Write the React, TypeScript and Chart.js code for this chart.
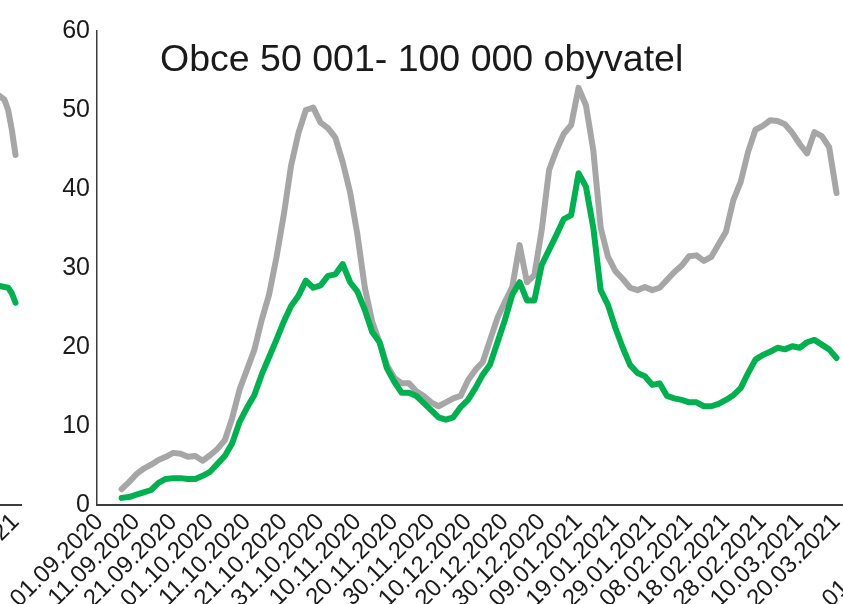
import React, { useEffect, useRef } from 'react';
import { Chart, registerables } from 'chart.js';

Chart.register(...registerables);

const TITLE = 'Obce 50 001- 100 000 obyvatel';

const tickDates = [
  '01.09.2020', '11.09.2020', '21.09.2020', '01.10.2020', '11.10.2020', '21.10.2020',
  '31.10.2020', '10.11.2020', '20.11.2020', '30.11.2020', '10.12.2020', '20.12.2020',
  '30.12.2020', '09.01.2021', '19.01.2021', '29.01.2021', '08.02.2021', '18.02.2021',
  '28.02.2021', '10.03.2021', '20.03.2021',
];

const yTicks = [0, 10, 20, 30, 40, 50, 60];

// samples every 2 days starting 07.09.2020 (day 6 after 01.09.2020)
const FIRST_SAMPLE_DAY = 6;
const SAMPLE_STEP = 2;

const grayValues = [
  2.0, 2.9, 3.9, 4.6, 5.1, 5.7, 6.1, 6.6, 6.5, 6.1,
  6.2, 5.6, 6.3, 7.1, 8.2, 11.0, 14.6, 17.1, 19.6, 23.4,
  26.6, 31.3, 36.7, 43.0, 47.1, 50.0, 50.3, 48.4, 47.7, 46.5,
  43.4, 39.6, 34.2, 27.5, 23.2, 20.6, 17.7, 16.1, 15.4, 15.4,
  14.4, 13.8, 13.0, 12.5, 13.0, 13.5, 13.8, 15.8, 17.1, 18.1,
  20.9, 23.7, 25.7, 27.6, 32.9, 28.2, 29.1, 34.8, 42.4, 44.9,
  47.0, 48.1, 52.8, 50.6, 44.9, 35.1, 31.4, 29.6, 28.6, 27.5,
  27.2, 27.6, 27.2, 27.5, 28.5, 29.5, 30.3, 31.5, 31.6, 30.9,
  31.4, 33.0, 34.6, 38.6, 40.9, 44.7, 47.5, 48.0, 48.7, 48.6,
  48.2, 47.1, 45.7, 44.5, 47.2, 46.7, 45.3, 39.5,
];

const greenValues = [
  0.9, 1.0, 1.3, 1.6, 1.9, 2.8, 3.3, 3.4, 3.4, 3.3,
  3.3, 3.7, 4.2, 5.2, 6.2, 7.8, 10.5, 12.3, 13.9, 16.5,
  18.7, 20.9, 23.2, 25.2, 26.5, 28.4, 27.5, 27.8, 29.0, 29.2,
  30.5, 28.2, 27.0, 24.7, 21.9, 20.6, 17.3, 15.6, 14.2, 14.2,
  13.8, 12.9, 12.0, 11.1, 10.8, 11.1, 12.4, 13.3, 14.8, 16.5,
  17.8, 20.6, 23.4, 26.6, 28.2, 25.9, 25.9, 30.4, 32.3, 34.2,
  36.2, 36.7, 42.0, 40.3, 35.1, 27.2, 25.3, 22.4, 19.9, 17.7,
  16.7, 16.3, 15.2, 15.4, 13.8, 13.5, 13.3, 13.0, 13.0, 12.5,
  12.5, 12.8, 13.3, 13.9, 14.8, 16.7, 18.4, 19.0, 19.4, 19.9,
  19.7, 20.1, 19.9, 20.6, 20.9, 20.3, 19.7, 18.6,
];

// visible tail of the neighbouring panel on the left
const leftDays = [195, 197, 198, 199, 200];
const leftGray = [52.0, 51.3, 50.0, 47.5, 44.3];
const leftGreen = [27.8, 27.6, 27.5, 26.8, 25.6];

const GRAY = '#a6a6a6';
const GREEN = '#00b050';
const FONT = '"Liberation Sans", Arial, sans-serif';

const CANVAS_W = 843;
const CANVAS_H = 640;
const AXIS_LEFT = 97;
const AXIS_TOP = 31;
const AXIS_BOTTOM = 505;
const X_MIN = -0.68;
const X_MAX = 201.76;

function dayOf(label: string): number {
  const [d, m, y] = label.split('.').map(Number);
  return Math.round((Date.UTC(y, m - 1, d) - Date.UTC(2020, 8, 1)) / 86400000);
}

const tickDays = tickDates.map(dayOf);
const sampleDays = grayValues.map((_, i) => FIRST_SAMPLE_DAY + i * SAMPLE_STEP);

type Pt = { x: number; y: number };
const toPts = (days: number[], vals: number[]): Pt[] => vals.map((v, i) => ({ x: days[i], y: v }));

function Panel({ left, gray, green }: { left: number; gray: Pt[]; green: Pt[] }) {
  const ref = useRef<HTMLCanvasElement | null>(null);
  useEffect(() => {
    if (!ref.current) return;
    const lineDs = (label: string, data: Pt[], color: string, order: number) => ({
      label,
      data,
      borderColor: color,
      backgroundColor: color,
      borderWidth: 6,
      pointRadius: 0,
      tension: 0,
      fill: false,
      borderCapStyle: 'round' as const,
      borderJoinStyle: 'round' as const,
      order,
    });
    const chart = new Chart(ref.current, {
      type: 'line',
      data: {
        datasets: [lineDs('green', green, GREEN, 0), lineDs('gray', gray, GRAY, 1)],
      },
      options: {
        responsive: false,
        animation: false,
        devicePixelRatio: 1,
        layout: { padding: { top: AXIS_TOP, left: 0, right: 0, bottom: 0 } },
        plugins: { legend: { display: false }, tooltip: { enabled: false }, title: { display: false } },
        scales: {
          x: {
            type: 'linear',
            min: X_MIN,
            max: X_MAX,
            grid: { display: false, drawTicks: false },
            border: { display: true, color: '#3c3c3c', width: 2 },
            ticks: {
              autoSkip: false,
              maxRotation: 45,
              minRotation: 45,
              padding: 3,
              color: '#1a1a1a',
              font: { family: FONT, size: 24 },
              callback: (v: any) => {
                const i = tickDays.indexOf(Number(v));
                return i >= 0 ? tickDates[i] : '';
              },
            },
            afterBuildTicks: (s: any) => {
              s.ticks = tickDays.map((v) => ({ value: v }));
            },
            afterFit: (s: any) => {
              s.height = CANVAS_H - AXIS_BOTTOM;
              s.paddingLeft = 0;
              s.paddingRight = 0;
            },
          },
          y: {
            type: 'linear',
            min: yTicks[0],
            max: yTicks[yTicks.length - 1],
            grid: { display: false, drawTicks: false },
            border: { display: true, color: '#3c3c3c', width: 1.5 },
            ticks: {
              stepSize: yTicks[1] - yTicks[0],
              padding: 7,
              color: '#1a1a1a',
              font: { family: FONT, size: 25 },
            },
            afterFit: (s: any) => {
              s.width = AXIS_LEFT;
              s.paddingTop = 0;
              s.paddingBottom = 0;
            },
          },
        },
      },
    } as any);
    return () => chart.destroy();
  }, [left, gray, green]);
  return (
    <canvas
      ref={ref}
      width={CANVAS_W}
      height={CANVAS_H}
      style={{ position: 'absolute', left, top: 0, width: CANVAS_W, height: CANVAS_H }}
    />
  );
}

const mainGray = toPts(sampleDays, grayValues);
const mainGreen = toPts(sampleDays, greenValues);
const sideGray = toPts(leftDays, leftGray);
const sideGreen = toPts(leftDays, leftGreen);
const empty: Pt[] = [];

export default function App() {
  return (
    <div
      style={{
        position: 'fixed',
        left: 0,
        top: 0,
        width: 843,
        height: 604,
        overflow: 'hidden',
        background: '#ffffff',
      }}
    >
      <Panel left={-821} gray={sideGray} green={sideGreen} />
      <Panel left={812} gray={empty} green={empty} />
      <Panel left={0} gray={mainGray} green={mainGreen} />
      <div
        style={{
          position: 'absolute',
          left: 160,
          top: 40,
          fontFamily: FONT,
          fontSize: 37.5,
          lineHeight: '37px',
          color: '#1a1a1a',
          whiteSpace: 'nowrap',
        }}
      >
        {TITLE}
      </div>
    </div>
  );
}
